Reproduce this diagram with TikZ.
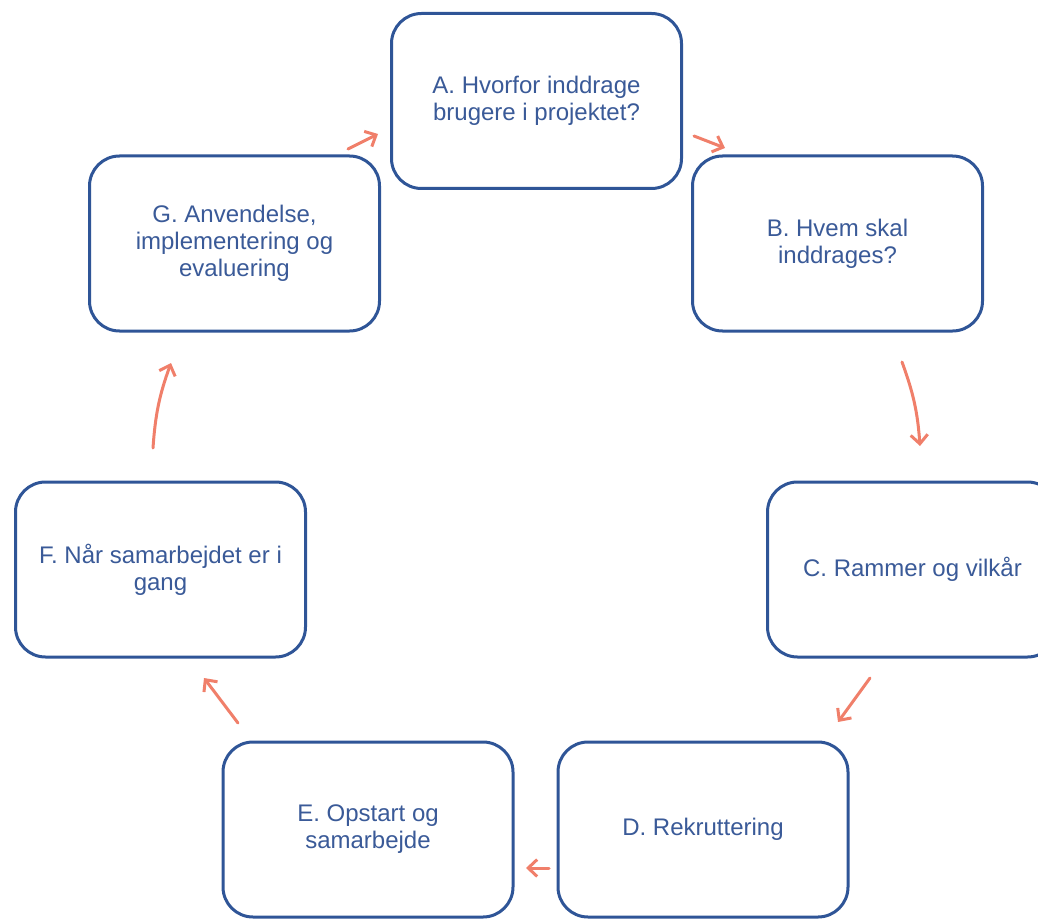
\documentclass[tikz,border=0pt]{standalone}
\usepackage{fontspec}
\setmainfont{Liberation Sans}
\usetikzlibrary{arrows.meta}
\definecolor{boxblue}{HTML}{2F5597}
\definecolor{txtblue}{HTML}{3A5A98}
\definecolor{salmon}{HTML}{F07F6A}
\tikzset{
  stepbox/.style={draw=boxblue, line width=3pt, rounded corners=30pt, fill=white,
    minimum width=290pt, minimum height=175pt, inner sep=0pt,
    align=center, text=txtblue, font=\fontsize{24}{27}\selectfont},
  flow/.style={draw=salmon, line width=3pt, line cap=round,
    -{Straight Barb[length=9pt,width=17pt,line width=3pt]}}
}
\begin{document}
\begin{tikzpicture}[x=1pt,y=-1pt]
\useasboundingbox (0,0) rectangle (1038,920);
\begin{scope}
\clip (0,0) rectangle (1038,920);
\node[stepbox] (A) at (536.5,101) {A. Hvorfor inddrage\\brugere i projektet?};
\node[stepbox] (B) at (837.5,243.5) {B. Hvem skal\\inddrages?};
\node[stepbox] (C) at (912.5,569.5) {C. Rammer og vilkår};
\node[stepbox] (D) at (703,829.5) {D. Rekruttering};
\node[stepbox] (E) at (368,829.5) {E. Opstart og\\samarbejde};
\node[stepbox] (F) at (160.5,569.5) {F. Når samarbejdet er i\\gang};
\node[stepbox] (G) at (234.5,243.5) {G. Anvendelse,\\implementering og\\evaluering};
\end{scope}
\coordinate (ga1) at (348,149);
\coordinate (ga2) at (378,134);
\coordinate (ab1) at (694,136);
\coordinate (ab2) at (725,148);
\coordinate (bc1) at (902,362);
\coordinate (bc2) at (920,446);
\coordinate (cd1) at (870,678);
\coordinate (cd2) at (838,722);
\coordinate (de1) at (549,868);
\coordinate (de2) at (526,868);
\coordinate (ef1) at (238,723);
\coordinate (ef2) at (204,678);
\coordinate (fg1) at (153,448);
\coordinate (fg2) at (171,363);
\draw[flow] (ga1) -- (ga2);
\draw[flow] (ab1) -- (ab2);
\draw[flow] (bc1) to[bend left=8] (bc2);
\draw[flow] (cd1) -- (cd2);
\draw[flow] (de1) -- (de2);
\draw[flow] (ef1) -- (ef2);
\draw[flow] (fg1) to[bend left=8] (fg2);
\end{tikzpicture}
\end{document}
